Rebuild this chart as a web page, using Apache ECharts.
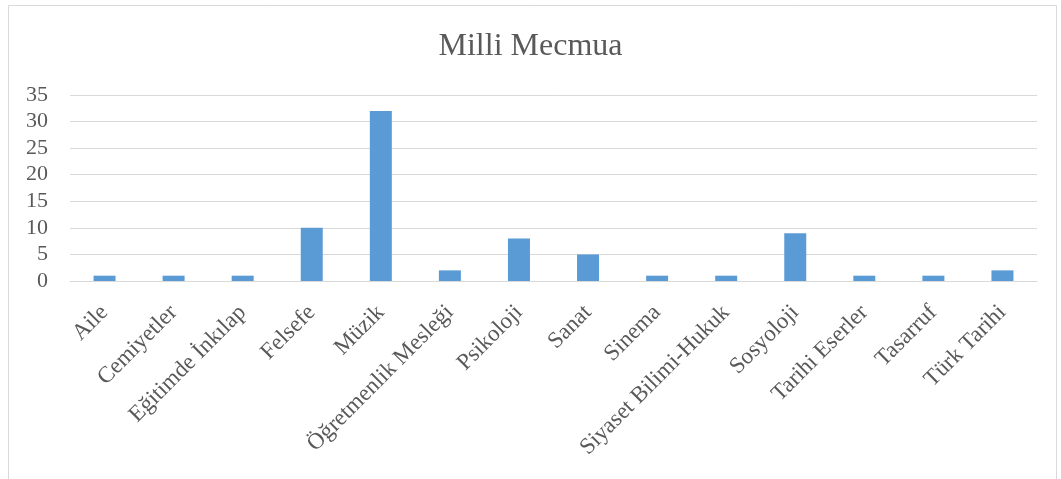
<!DOCTYPE html>
<html><head><meta charset="utf-8">
<script src="https://cdn.jsdelivr.net/npm/echarts@6/dist/echarts.min.js"></script>
<style>html,body{margin:0;padding:0;background:#fff}#c{width:1061px;height:479px}</style>
</head><body><div id="c"></div>
<script>
const title = "Milli Mecmua";
const categories = ["Aile","Cemiyetler","Eğitimde İnkılap","Felsefe","Müzik","Öğretmenlik Mesleği","Psikoloji","Sanat","Sinema","Siyaset Bilimi-Hukuk","Sosyoloji","Tarihi Eserler","Tasarruf","Türk Tarihi"];
const values = [1,1,1,10,32,2,8,5,1,1,9,1,1,2];
const yTicks = [0,5,10,15,20,25,30,35];

const font = "'Liberation Serif','Times New Roman',serif";
const chart = echarts.init(document.getElementById('c'));
chart.setOption({
  animation:false,
  title:{text:title,left:'center',top:26,textStyle:{fontFamily:font,fontSize:32,fontWeight:'normal',color:'#595959'}},
  graphic:[{type:'rect',shape:{x:8.5,y:5.5,width:1048,height:480},style:{fill:null,stroke:'#d9d9d9',lineWidth:1},silent:true}],
  grid:{left:70,right:24,top:95,bottom:198,containLabel:false},
  xAxis:{type:'category',data:categories,
    axisLine:{lineStyle:{color:'#d9d9d9',width:1}},axisTick:{show:false},
    axisLabel:{rotate:45,interval:0,margin:28,fontFamily:font,fontSize:23,color:'#595959'}},
  yAxis:{type:'value',min:yTicks[0],max:yTicks[yTicks.length-1],interval:5,
    axisLine:{show:false},axisTick:{show:false},
    splitLine:{lineStyle:{color:'#d9d9d9',width:1}},
    axisLabel:{margin:22,fontFamily:font,fontSize:22,color:'#595959'}},
  series:[{type:'bar',data:values,barWidth:22,itemStyle:{color:'#5B9BD5'}}]
});
</script></body></html>
